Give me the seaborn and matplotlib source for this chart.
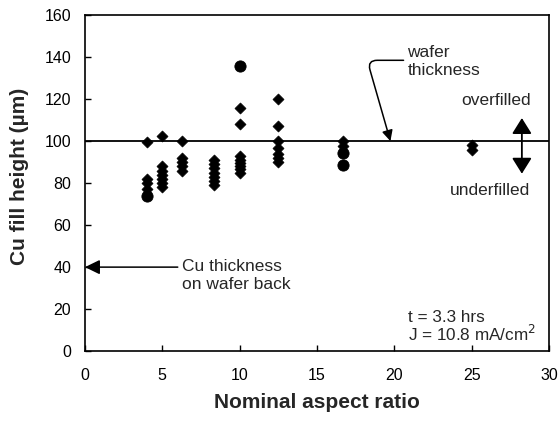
import matplotlib
matplotlib.use("Agg")
import matplotlib.pyplot as plt
import pandas as pd
import seaborn as sns

# nominal aspect ratio of each via group
diamond_x = [4, 4, 4, 4,
             5, 5, 5, 5, 5, 5, 5,
             6.25, 6.25, 6.25, 6.25, 6.25,
             8.33, 8.33, 8.33, 8.33, 8.33, 8.33, 8.33,
             10, 10, 10, 10, 10, 10, 10, 10,
             12.5, 12.5, 12.5, 12.5, 12.5, 12.5, 12.5,
             16.67, 16.67,
             25, 25]
diamond_y = [99.5, 82, 80, 77,
             102.5, 88, 86, 84, 82, 80, 78,
             100, 92, 90, 88, 86,
             91, 89, 87, 85, 83, 81, 79,
             116, 108, 93, 91, 89.5, 88, 86.5, 85,
             120, 107, 100, 96.5, 94, 92, 90,
             100, 97.5,
             98, 96]
circle_x = [4, 10, 16.67, 16.67]
circle_y = [74, 136, 94.5, 88.5]

wafer_thickness = 100
back_thickness = 40

sns.set_theme(style="ticks")
plt.rcParams["font.family"] = ["Liberation Sans", "DejaVu Sans"]

fig = plt.figure(figsize=(5.59, 4.21), dpi=100)
ax = fig.add_axes([0.152, 0.166, 0.83, 0.798])

diamonds = pd.DataFrame({"ratio": diamond_x, "height": diamond_y})
circles = pd.DataFrame({"ratio": circle_x, "height": circle_y})
sns.scatterplot(data=diamonds, x="ratio", y="height", marker="D", s=32,
                color="black", edgecolor="black", ax=ax, zorder=3)
sns.scatterplot(data=circles, x="ratio", y="height", marker="o", s=65,
                color="black", edgecolor="black", ax=ax, zorder=3)

ax.axhline(wafer_thickness, color="black", linewidth=1.3, zorder=2)

ax.set_xlim(0, 30)
ax.set_ylim(0, 160)
ax.set_xticks(range(0, 31, 5))
ax.set_yticks(range(0, 161, 20))
ax.tick_params(direction="in", length=4, width=1, colors="black", labelsize=11.5)
ax.tick_params(axis="x", pad=12)
ax.tick_params(axis="y", pad=10)
for sp in ax.spines.values():
    sp.set_visible(True)
    sp.set_color("black")
    sp.set_linewidth(1.2)

ax.set_xlabel("Nominal aspect ratio", fontsize=15, fontweight="bold")
ax.set_ylabel("Cu fill height (µm)", fontsize=15, fontweight="bold")
ax.xaxis.set_label_coords(0.5, -0.125)
ax.yaxis.set_label_coords(-0.12, 0.52)

# wafer thickness callout
ax.annotate("", xy=(19.75, wafer_thickness), xytext=(20.6, 138.5),
            arrowprops=dict(arrowstyle="-|>", color="black", lw=1.1,
                            mutation_scale=16, shrinkA=0, shrinkB=0,
                            connectionstyle="angle,angleA=0,angleB=106,rad=10"))
ax.text(20.85, 138, "wafer\nthickness", fontsize=12.5, ha="left", va="center",
        linespacing=1.25)

# overfilled / underfilled double arrow
ax.annotate("", xy=(28.25, 111), xytext=(28.25, 84.5),
            arrowprops=dict(arrowstyle="<|-|>,head_length=0.4,head_width=0.25",
                            color="black", lw=1.3, mutation_scale=24,
                            shrinkA=0, shrinkB=0))
ax.text(28.8, 119.5, "overfilled", fontsize=12.5, ha="right", va="center")
ax.text(28.8, 76.5, "underfilled", fontsize=12.5, ha="right", va="center")

# back side copper
ax.annotate("", xy=(0, back_thickness), xytext=(6.0, back_thickness),
            arrowprops=dict(arrowstyle="-|>,head_length=0.45,head_width=0.22",
                            color="black", lw=1.1, mutation_scale=20,
                            shrinkA=0, shrinkB=0))
ax.text(6.27, 35.8, "Cu thickness\non wafer back", fontsize=12.5, ha="left",
        va="center", linespacing=1.25)

ax.text(20.9, 16, "t = 3.3 hrs", fontsize=12.3, ha="left", va="center")
ax.text(20.9, 8, "J = 10.8 mA/cm$^2$", fontsize=12.3, ha="left", va="center")

fig.savefig("out.png", dpi=100)
